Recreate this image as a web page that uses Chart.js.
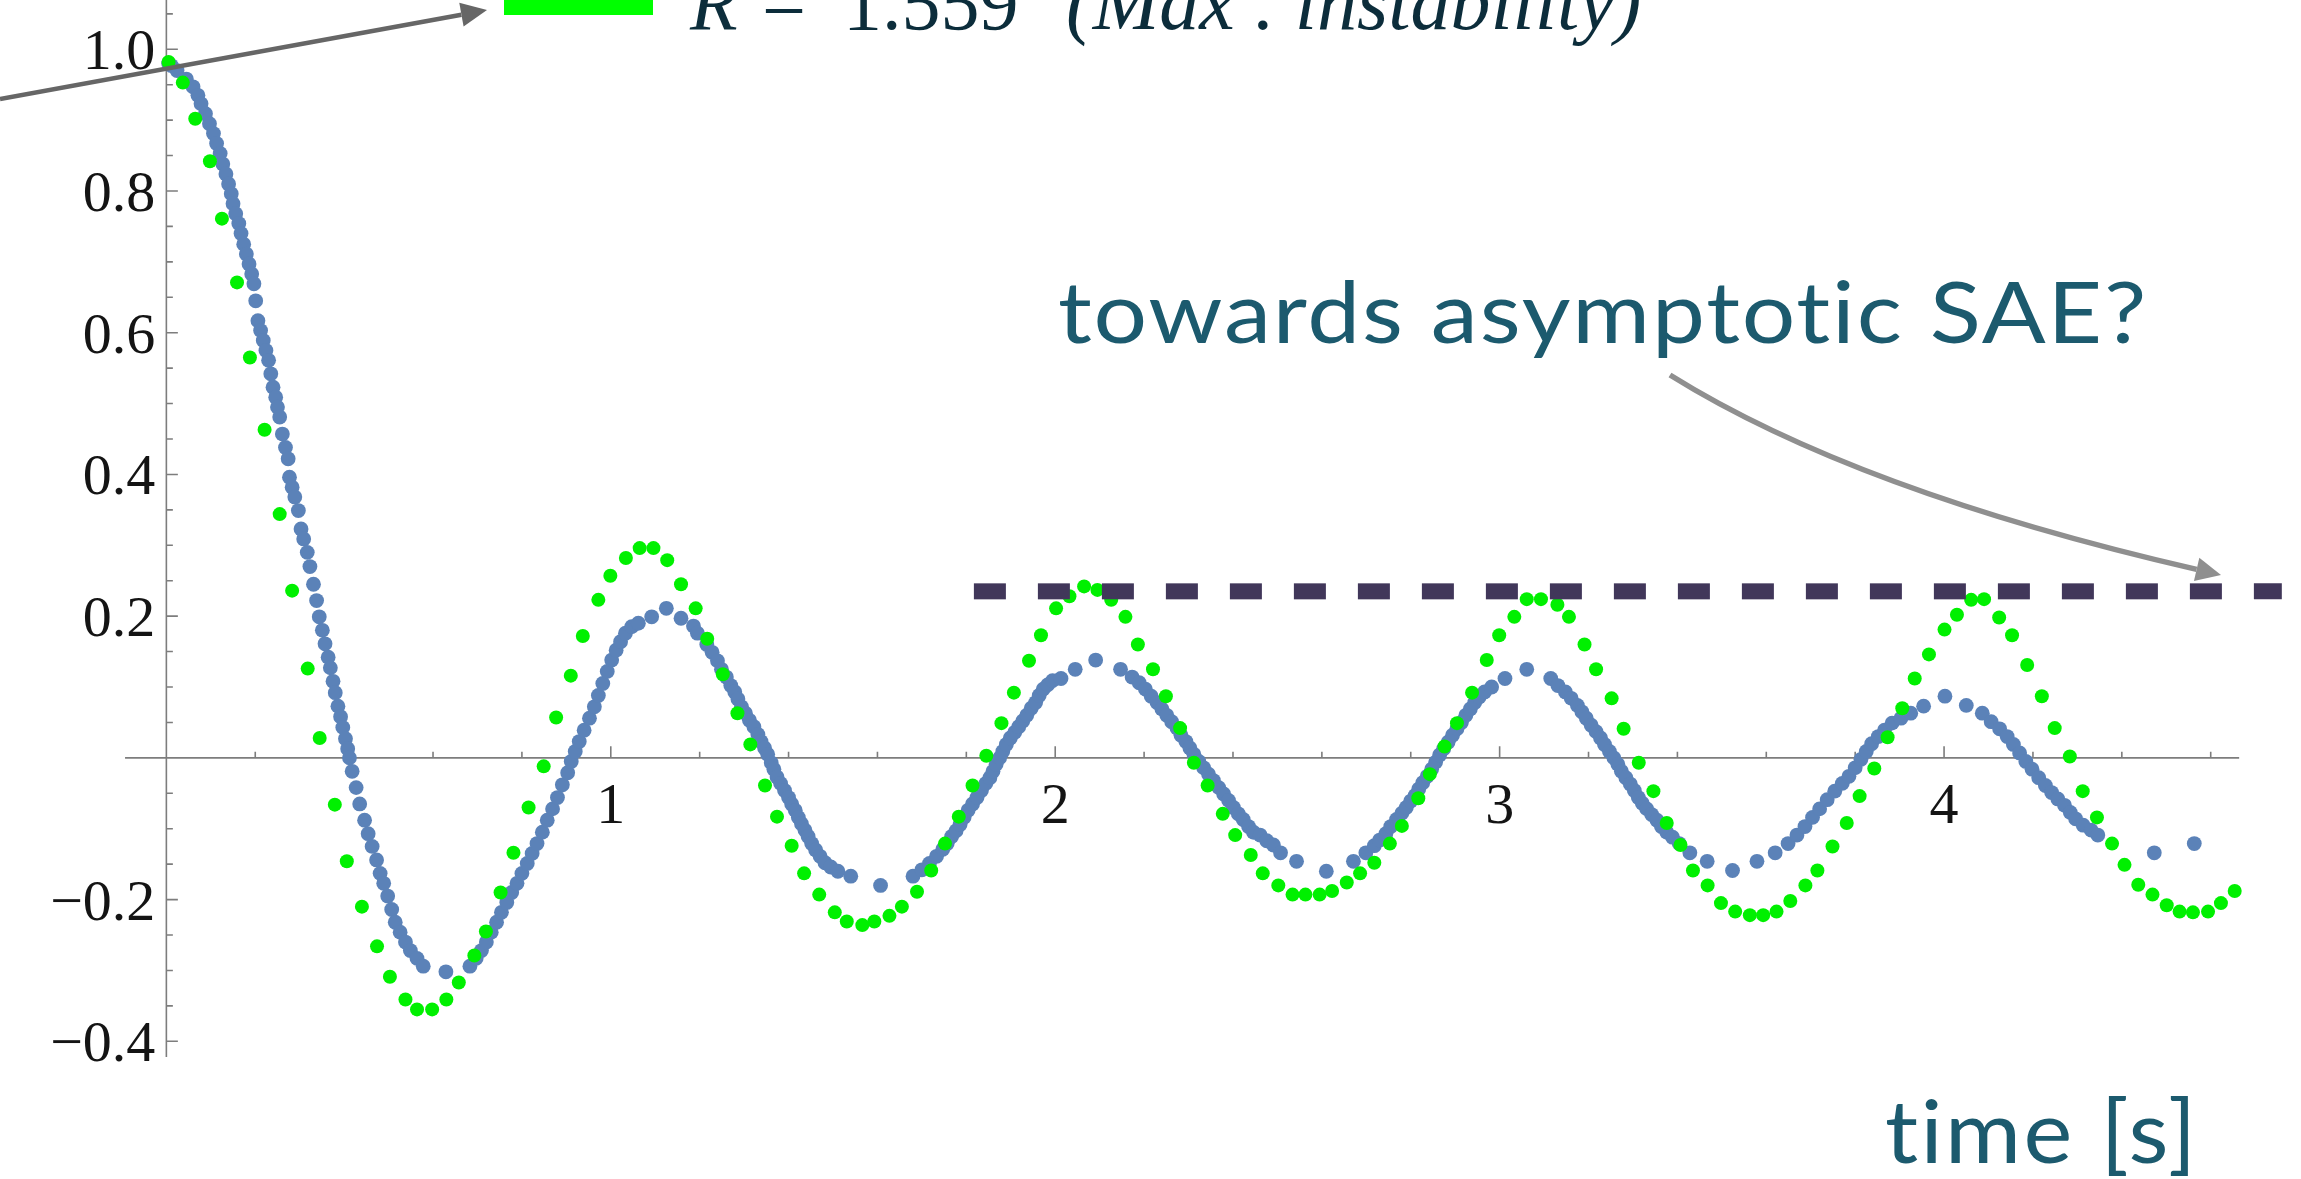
<!DOCTYPE html>
<html>
<head>
<meta charset="utf-8">
<script src="https://cdn.jsdelivr.net/npm/chart.js@4.4.1/dist/chart.umd.min.js"></script>
<style>
  html, body { margin: 0; padding: 0; background: #ffffff; overflow: hidden; }
  canvas { display: block; }
</style>
</head>
<body>
<canvas id="plot" width="2301" height="1179"></canvas>
<script>
// Response at R = 1.559 (maximum instability), sampled every ~0.031 s
const greenTime = [
  0.005, 0.037, 0.065, 0.098, 0.125, 0.159, 0.188, 0.221, 0.255, 0.283,
  0.318, 0.345, 0.379, 0.406, 0.440, 0.474, 0.503, 0.538, 0.564, 0.598,
  0.630, 0.658, 0.693, 0.719, 0.752, 0.781, 0.815, 0.849, 0.877, 0.910,
  0.937, 0.972, 0.999, 1.034, 1.065, 1.096, 1.127, 1.158, 1.191, 1.217,
  1.252, 1.285, 1.314, 1.347, 1.374, 1.407, 1.435, 1.469, 1.504, 1.531,
  1.566, 1.593, 1.627, 1.655, 1.689, 1.721, 1.752, 1.783, 1.814, 1.845,
  1.879, 1.907, 1.941, 1.968, 2.002, 2.032, 2.065, 2.095, 2.126, 2.158,
  2.186, 2.220, 2.249, 2.281, 2.312, 2.343, 2.377, 2.405, 2.440, 2.467,
  2.502, 2.534, 2.563, 2.595, 2.623, 2.656, 2.686, 2.718, 2.753, 2.780,
  2.817, 2.843, 2.876, 2.904, 2.938, 2.971, 2.999, 3.033, 3.061, 3.093,
  3.130, 3.156, 3.191, 3.217, 3.252, 3.279, 3.313, 3.346, 3.376, 3.407,
  3.435, 3.468, 3.498, 3.530, 3.563, 3.593, 3.623, 3.654, 3.688, 3.715,
  3.749, 3.781, 3.810, 3.843, 3.873, 3.906, 3.934, 3.966, 4.001, 4.029,
  4.061, 4.090, 4.124, 4.153, 4.187, 4.220, 4.249, 4.283, 4.312, 4.344,
  4.378, 4.406, 4.437, 4.469, 4.501, 4.530, 4.560, 4.594, 4.623, 4.654
];
const greenValue = [
  0.982, 0.953, 0.902, 0.842, 0.761, 0.671, 0.565, 0.463, 0.344, 0.236,
  0.126, 0.028, -0.066, -0.146, -0.210, -0.266, -0.309, -0.341, -0.355, -0.355,
  -0.341, -0.317, -0.279, -0.245, -0.190, -0.134, -0.070, -0.012, 0.057, 0.116,
  0.172, 0.223, 0.257, 0.282, 0.296, 0.296, 0.279, 0.245, 0.211, 0.168,
  0.118, 0.063, 0.019, -0.039, -0.083, -0.124, -0.163, -0.193, -0.218, -0.231,
  -0.236, -0.231, -0.223, -0.210, -0.189, -0.159, -0.121, -0.083, -0.039, 0.003,
  0.049, 0.092, 0.137, 0.173, 0.211, 0.228, 0.242, 0.237, 0.223, 0.199,
  0.160, 0.125, 0.087, 0.042, -0.007, -0.039, -0.079, -0.109, -0.137, -0.163,
  -0.180, -0.193, -0.193, -0.193, -0.188, -0.176, -0.163, -0.148, -0.121, -0.096,
  -0.057, -0.023, 0.016, 0.049, 0.092, 0.138, 0.173, 0.199, 0.224, 0.224,
  0.216, 0.199, 0.160, 0.125, 0.084, 0.041, -0.007, -0.047, -0.092, -0.123,
  -0.159, -0.180, -0.205, -0.217, -0.222, -0.222, -0.217, -0.202, -0.180, -0.159,
  -0.125, -0.092, -0.054, -0.015, 0.029, 0.070, 0.112, 0.146, 0.181, 0.202,
  0.223, 0.224, 0.198, 0.173, 0.131, 0.087, 0.042, 0.002, -0.047, -0.084,
  -0.121, -0.151, -0.179, -0.193, -0.208, -0.217, -0.218, -0.217, -0.205, -0.188
];

// Reference response (dense samples)
const blueTime = [
  0.005, 0.011, 0.024, 0.045, 0.060, 0.071, 0.078, 0.088, 0.097, 0.106,
  0.113, 0.121, 0.127, 0.134, 0.140, 0.146, 0.150, 0.156, 0.163, 0.168,
  0.174, 0.180, 0.186, 0.192, 0.197, 0.201, 0.206, 0.212, 0.218, 0.224,
  0.230, 0.235, 0.240, 0.246, 0.250, 0.255, 0.261, 0.268, 0.274, 0.277,
  0.283, 0.289, 0.297, 0.303, 0.309, 0.317, 0.323, 0.331, 0.338, 0.344,
  0.351, 0.357, 0.364, 0.369, 0.375, 0.380, 0.386, 0.392, 0.397, 0.403,
  0.408, 0.412, 0.418, 0.427, 0.435, 0.446, 0.454, 0.463, 0.473, 0.481,
  0.489, 0.498, 0.507, 0.515, 0.526, 0.538, 0.549, 0.564, 0.578, 0.629,
  0.683, 0.697, 0.709, 0.720, 0.731, 0.743, 0.754, 0.766, 0.777, 0.789,
  0.800, 0.812, 0.823, 0.834, 0.846, 0.857, 0.869, 0.880, 0.891, 0.903,
  0.911, 0.920, 0.929, 0.940, 0.952, 0.963, 0.972, 0.982, 0.992, 1.002,
  1.012, 1.022, 1.033, 1.047, 1.062, 1.092, 1.125, 1.158, 1.186, 1.195,
  1.216, 1.228, 1.240, 1.249, 1.260, 1.270, 1.279, 1.286, 1.294, 1.303,
  1.312, 1.322, 1.331, 1.338, 1.346, 1.353, 1.361, 1.367, 1.374, 1.382,
  1.391, 1.400, 1.407, 1.415, 1.422, 1.429, 1.437, 1.444, 1.452, 1.461,
  1.471, 1.482, 1.495, 1.511, 1.540, 1.607, 1.680, 1.700, 1.717, 1.733,
  1.747, 1.757, 1.767, 1.777, 1.786, 1.795, 1.804, 1.814, 1.824, 1.834,
  1.844, 1.853, 1.860, 1.867, 1.875, 1.882, 1.890, 1.899, 1.909, 1.918,
  1.927, 1.936, 1.946, 1.956, 1.964, 1.973, 1.983, 1.994, 2.013, 2.045,
  2.091, 2.147, 2.173, 2.189, 2.203, 2.216, 2.229, 2.240, 2.251, 2.262,
  2.274, 2.283, 2.294, 2.303, 2.312, 2.323, 2.334, 2.345, 2.356, 2.368,
  2.379, 2.390, 2.401, 2.412, 2.423, 2.435, 2.446, 2.461, 2.476, 2.491,
  2.507, 2.543, 2.610, 2.671, 2.699, 2.718, 2.730, 2.744, 2.755, 2.768,
  2.780, 2.790, 2.800, 2.810, 2.818, 2.827, 2.837, 2.847, 2.856, 2.865,
  2.874, 2.884, 2.894, 2.904, 2.914, 2.924, 2.934, 2.944, 2.954, 2.966,
  2.982, 3.012, 3.061, 3.115, 3.131, 3.148, 3.161, 3.175, 3.185, 3.195,
  3.206, 3.217, 3.227, 3.236, 3.247, 3.257, 3.266, 3.274, 3.284, 3.294,
  3.303, 3.312, 3.321, 3.331, 3.342, 3.354, 3.364, 3.376, 3.389, 3.404,
  3.428, 3.467, 3.524, 3.579, 3.620, 3.649, 3.669, 3.687, 3.704, 3.720,
  3.737, 3.754, 3.771, 3.786, 3.800, 3.813, 3.825, 3.837, 3.852, 3.866,
  3.883, 3.903, 3.925, 3.954, 4.002, 4.050, 4.086, 4.106, 4.125, 4.142,
  4.156, 4.170, 4.184, 4.198, 4.213, 4.228, 4.242, 4.256, 4.271, 4.284,
  4.296, 4.313, 4.331, 4.346, 4.473, 4.563
];
const blueValue = [
  0.980, 0.977, 0.970, 0.958, 0.947, 0.935, 0.923, 0.909, 0.895, 0.881,
  0.867, 0.853, 0.838, 0.824, 0.810, 0.796, 0.782, 0.768, 0.754, 0.740,
  0.725, 0.711, 0.697, 0.683, 0.669, 0.645, 0.617, 0.603, 0.589, 0.575,
  0.561, 0.542, 0.523, 0.509, 0.495, 0.481, 0.457, 0.438, 0.422, 0.396,
  0.382, 0.368, 0.349, 0.323, 0.309, 0.290, 0.270, 0.245, 0.222, 0.199,
  0.180, 0.161, 0.142, 0.127, 0.108, 0.092, 0.073, 0.058, 0.043, 0.027,
  0.013, 0.000, -0.019, -0.042, -0.065, -0.088, -0.107, -0.125, -0.144, -0.163,
  -0.177, -0.195, -0.214, -0.232, -0.246, -0.260, -0.272, -0.283, -0.294, -0.302,
  -0.294, -0.283, -0.272, -0.260, -0.246, -0.232, -0.218, -0.204, -0.190, -0.177,
  -0.163, -0.149, -0.135, -0.121, -0.105, -0.088, -0.072, -0.056, -0.038, -0.021,
  -0.005, 0.009, 0.023, 0.039, 0.056, 0.072, 0.088, 0.105, 0.122, 0.138,
  0.152, 0.164, 0.176, 0.185, 0.190, 0.199, 0.211, 0.197, 0.186, 0.176,
  0.160, 0.149, 0.137, 0.125, 0.114, 0.102, 0.093, 0.083, 0.072, 0.063,
  0.053, 0.044, 0.033, 0.023, 0.014, 0.005, -0.007, -0.016, -0.027, -0.036,
  -0.046, -0.056, -0.065, -0.074, -0.084, -0.093, -0.102, -0.111, -0.121, -0.130,
  -0.139, -0.148, -0.154, -0.160, -0.167, -0.180, -0.167, -0.158, -0.149, -0.139,
  -0.129, -0.121, -0.111, -0.103, -0.094, -0.084, -0.074, -0.065, -0.056, -0.046,
  -0.036, -0.028, -0.019, -0.009, 0.000, 0.009, 0.019, 0.028, 0.036, 0.044,
  0.052, 0.060, 0.070, 0.078, 0.088, 0.097, 0.103, 0.109, 0.112, 0.125,
  0.138, 0.125, 0.114, 0.106, 0.097, 0.087, 0.078, 0.069, 0.060, 0.051,
  0.042, 0.032, 0.023, 0.014, 0.005, -0.005, -0.014, -0.023, -0.032, -0.042,
  -0.051, -0.060, -0.070, -0.079, -0.087, -0.097, -0.105, -0.109, -0.117, -0.123,
  -0.134, -0.146, -0.160, -0.146, -0.134, -0.124, -0.116, -0.107, -0.097, -0.087,
  -0.078, -0.070, -0.061, -0.053, -0.044, -0.035, -0.026, -0.016, -0.006, 0.004,
  0.013, 0.022, 0.032, 0.041, 0.050, 0.060, 0.069, 0.078, 0.086, 0.093,
  0.100, 0.112, 0.125, 0.112, 0.102, 0.093, 0.084, 0.074, 0.065, 0.056,
  0.046, 0.037, 0.028, 0.019, 0.009, 0.000, -0.009, -0.019, -0.028, -0.037,
  -0.046, -0.056, -0.064, -0.072, -0.080, -0.088, -0.097, -0.105, -0.112, -0.121,
  -0.134, -0.146, -0.159, -0.146, -0.134, -0.121, -0.109, -0.097, -0.084, -0.072,
  -0.059, -0.047, -0.036, -0.026, -0.014, -0.002, 0.009, 0.020, 0.030, 0.039,
  0.049, 0.056, 0.063, 0.073, 0.087, 0.074, 0.063, 0.051, 0.041, 0.030,
  0.019, 0.007, -0.005, -0.016, -0.028, -0.039, -0.049, -0.058, -0.067, -0.077,
  -0.086, -0.095, -0.102, -0.109, -0.134, -0.121
];

// Suggested asymptotic level (dashed guide)
const asymptoteLevel = 0.235;
const asymptoteSpan = [1.817, 4.76];

// Axis ticks
const xMajorTicks = [1, 2, 3, 4];
const xTickLabels = ['1', '2', '3', '4'];
const xMinorTicks = [0.2, 0.4, 0.6, 0.8, 1.2, 1.4, 1.6, 1.8, 2.2, 2.4, 2.6, 2.8,
                     3.2, 3.4, 3.6, 3.8, 4.2, 4.4, 4.6];
const yMajorTicks = [-0.4, -0.2, 0.2, 0.4, 0.6, 0.8, 1.0];
const yTickLabels = ['\u22120.4', '\u22120.2', '0.2', '0.4', '0.6', '0.8', '1.0'];
const yMinorTicks = [-0.35, -0.3, -0.25, -0.15, -0.1, -0.05, 0.05, 0.1, 0.15,
                     0.25, 0.3, 0.35, 0.45, 0.5, 0.55, 0.65, 0.7, 0.75,
                     0.85, 0.9, 0.95, 1.05];

// Text
const legendLabel = { r: 'R', eq: '=', value: '1.559', note: '(Max . instability)' };
const calloutText = 'towards asymptotic SAE?';
const xTitle = 'time [s]';

const toPoints = (xs, ys) => xs.map((x, i) => ({ x: x, y: ys[i] }));

// Draw text spanning a given width: part horizontal stretch, part tracking
function fitText(ctx, text, left, baseline, width, stretch) {
  const hs = stretch || 1;
  if ('letterSpacing' in ctx) ctx.letterSpacing = '0px';
  const w = ctx.measureText(text).width;
  ctx.save();
  ctx.translate(left, baseline);
  if ('letterSpacing' in ctx) {
    ctx.scale(hs, 1);
    ctx.letterSpacing = ((width / hs - w) / (text.length - 1)) + 'px';
    ctx.fillText(text, 0, 0);
    ctx.letterSpacing = '0px';
  } else {
    ctx.scale(width / w, 1);
    ctx.fillText(text, 0, 0);
  }
  ctx.restore();
}

function arrowHead(ctx, tipX, tipY, angle, len, half) {
  const bx = tipX - Math.cos(angle) * len;
  const by = tipY - Math.sin(angle) * len;
  const nx = -Math.sin(angle) * half;
  const ny = Math.cos(angle) * half;
  ctx.beginPath();
  ctx.moveTo(tipX, tipY);
  ctx.lineTo(bx + nx, by + ny);
  ctx.lineTo(bx - nx, by - ny);
  ctx.closePath();
  ctx.fill();
  return [bx, by];
}

// Axes crossing at the origin, ticks pointing inward
const crossAxes = {
  id: 'crossAxes',
  beforeDatasetsDraw(chart) {
    const { ctx, scales: { x, y } } = chart;
    const ox = x.getPixelForValue(0);
    const oy = y.getPixelForValue(0);
    ctx.save();
    ctx.strokeStyle = '#7d7d7d';
    ctx.lineWidth = 1.6;
    ctx.beginPath();
    ctx.moveTo(x.getPixelForValue(-0.093), oy);
    ctx.lineTo(x.getPixelForValue(4.664), oy);
    ctx.moveTo(ox, y.getPixelForValue(-0.422));
    ctx.lineTo(ox, 0);
    xMajorTicks.forEach(v => { const p = x.getPixelForValue(v); ctx.moveTo(p, oy); ctx.lineTo(p, oy - 11.5); });
    xMinorTicks.forEach(v => { const p = x.getPixelForValue(v); ctx.moveTo(p, oy); ctx.lineTo(p, oy - 6); });
    yMajorTicks.forEach(v => { const p = y.getPixelForValue(v); ctx.moveTo(ox, p); ctx.lineTo(ox + 11.5, p); });
    yMinorTicks.forEach(v => { const p = y.getPixelForValue(v); ctx.moveTo(ox, p); ctx.lineTo(ox + 6.5, p); });
    ctx.stroke();

    ctx.fillStyle = '#141414';
    ctx.font = '58px "Liberation Serif"';
    ctx.textBaseline = 'alphabetic';
    ctx.textAlign = 'center';
    xMajorTicks.forEach((v, i) => ctx.fillText(xTickLabels[i], x.getPixelForValue(v), oy + 65));
    ctx.textAlign = 'right';
    yMajorTicks.forEach((v, i) => ctx.fillText(yTickLabels[i], ox - 11, y.getPixelForValue(v) + 20));
    ctx.restore();
  },
  afterDatasetsDraw(chart) {
    const { ctx } = chart;
    ctx.save();

    // legend swatch and label
    ctx.fillStyle = '#00ff00';
    ctx.fillRect(504, 0, 149, 15);
    ctx.fillStyle = '#0c2d3b';
    ctx.textAlign = 'left';
    ctx.textBaseline = 'alphabetic';
    ctx.font = 'italic 78px "Liberation Serif"';
    ctx.fillText(legendLabel.r, 690, 29);
    ctx.font = '78px "Liberation Serif"';
    ctx.fillText(legendLabel.eq, 762, 29);
    ctx.fillText(legendLabel.value, 843, 29);
    ctx.font = 'italic 80px "Liberation Serif"';
    ctx.fillText(legendLabel.note, 1066, 29);

    // pointer to the legend
    ctx.fillStyle = '#666666';
    ctx.strokeStyle = '#666666';
    ctx.lineWidth = 4.5;
    const a1 = Math.atan2(10 - 99, 487 - 0);
    const b1 = arrowHead(ctx, 487, 10, a1, 26, 12);
    ctx.beginPath();
    ctx.moveTo(0, 99);
    ctx.lineTo(b1[0], b1[1]);
    ctx.stroke();

    // callout and curved arrow
    ctx.fillStyle = '#1c5a6e';
    ctx.font = '86px Lato';
    fitText(ctx, calloutText, 1058, 343, 1090, 1.1);

    ctx.fillStyle = '#8f8f8f';
    ctx.strokeStyle = '#8f8f8f';
    ctx.lineWidth = 5.5;
    const a2 = Math.atan2(575 - 491, 2221 - 1856);
    const b2 = arrowHead(ctx, 2221, 575, a2, 25, 12);
    ctx.beginPath();
    ctx.moveTo(1670, 375);
    ctx.quadraticCurveTo(1856, 491, b2[0], b2[1]);
    ctx.stroke();

    // axis title
    ctx.fillStyle = '#1c5a6e';
    ctx.font = '88px Lato';
    fitText(ctx, xTitle, 1885, 1163, 313, 1.05);

    ctx.restore();
  }
};

function build() {
  const ctx = document.getElementById('plot').getContext('2d');
  new Chart(ctx, {
    type: 'scatter',
    data: {
      datasets: [
        {
          label: 'asymptote',
          data: [{ x: asymptoteSpan[0], y: asymptoteLevel }, { x: asymptoteSpan[1], y: asymptoteLevel }],
          showLine: true,
          borderColor: '#41375a',
          borderWidth: 16,
          borderDash: [32, 32],
          borderCapStyle: 'butt',
          pointRadius: 0,
          order: 0
        },
        {
          label: 'R = 1.559',
          data: toPoints(greenTime, greenValue),
          backgroundColor: '#00f000',
          borderWidth: 0,
          pointRadius: 7,
          order: 1
        },
        {
          label: 'reference',
          data: toPoints(blueTime, blueValue),
          backgroundColor: '#5b82b8',
          borderWidth: 0,
          pointRadius: 7.4,
          order: 2
        }
      ]
    },
    options: {
      responsive: false,
      animation: false,
      devicePixelRatio: 1,
      events: [],
      layout: { padding: 0 },
      plugins: { legend: { display: false }, tooltip: { enabled: false } },
      scales: {
        x: { type: 'linear', min: -0.3577, max: 4.7865, display: false },
        y: { type: 'linear', min: -0.5839, max: 1.0591, display: false }
      }
    },
    plugins: [crossAxes]
  });
}

const fontsReady = document.fonts && document.fonts.load
  ? Promise.all([
      document.fonts.load('86px Lato'),
      document.fonts.load('58px "Liberation Serif"'),
      document.fonts.load('italic 78px "Liberation Serif"')
    ]).catch(() => null)
  : Promise.resolve();
fontsReady.then(build);
</script>
</body>
</html>
